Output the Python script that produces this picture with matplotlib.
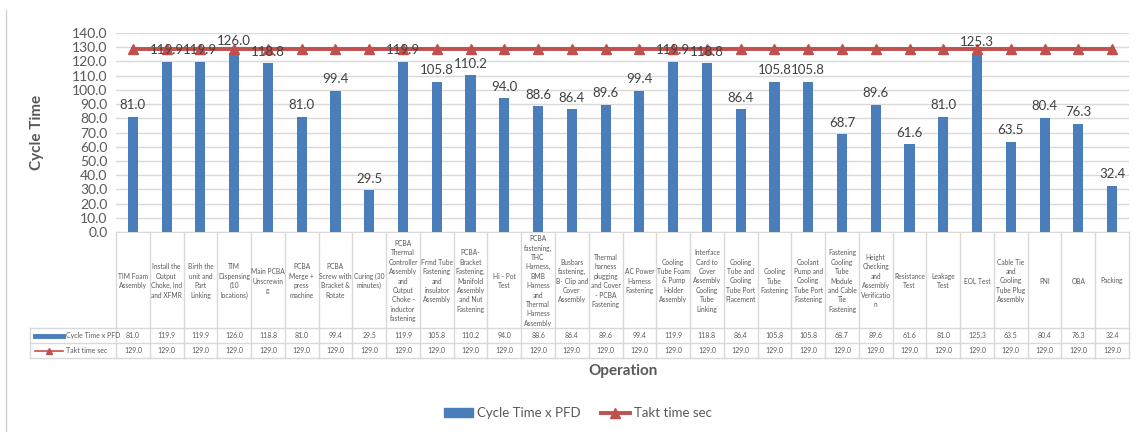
import matplotlib.pyplot as plt
from matplotlib.transforms import blended_transform_factory
from matplotlib.lines import Line2D
from matplotlib.patches import Patch

plt.rcParams['font.family'] = ['Lato', 'DejaVu Sans']

operations = [
    "TIM Foam\nAssembly",
    "Install the\nOutput\nChoke, Ind\nand XFMR",
    "Birth the\nunit and\nPart\nLinking",
    "TIM\nDispensing\n(10\nlocations)",
    "Main PCBA\nUnscrewin\ng",
    "PCBA\nMerge +\npress\nmachine",
    "PCBA\nScrew with\nBracket &\nRotate",
    "Curing (30\nminutes)",
    "PCBA\nThermal\nController\nAssembly\nand\nOutput\nChoke -\ninductor\nfastening",
    "Frmd Tube\nFastening\nand\ninsulator\nAssembly",
    "PCBA-\nBracket\nFastening,\nManifold\nAssembly\nand Nut\nFastening",
    "Hi - Pot\nTest",
    "PCBA\nfastening,\nTHC\nHarness,\nBMB\nHarness\nand\nThermal\nHarness\nAssembly",
    "Busbars\nfastening,\nB- Clip and\nCover\nAssembly",
    "Thermal\nharness\nplugging\nand Cover\n- PCBA\nFastening",
    "AC Power\nHarness\nFastening",
    "Cooling\nTube Foam\n& Pump\nHolder\nAssembly",
    "Interface\nCard to\nCover\nAssembly\nCooling\nTube\nLinking",
    "Cooling\nTube and\nCooling\nTube Port\nPlacement",
    "Cooling\nTube\nFastening",
    "Coolant\nPump and\nCooling\nTube Port\nFastening",
    "Fastening\nCooling\nTube\nModule\nand Cable\nTie\nFastening",
    "Height\nChecking\nand\nAssembly\nVerificatio\nn",
    "Resistance\nTest",
    "Leakage\nTest",
    "EOL Test",
    "Cable Tie\nand\nCooling\nTube Plug\nAssembly",
    "FNI",
    "OBA",
    "Packing",
]
cycle_time = [81.0, 119.9, 119.9, 126.0, 118.8, 81.0, 99.4, 29.5, 119.9, 105.8,
              110.2, 94.0, 88.6, 86.4, 89.6, 99.4, 119.9, 118.8, 86.4, 105.8,
              105.8, 68.7, 89.6, 61.6, 81.0, 125.3, 63.5, 80.4, 76.3, 32.4]
takt_time = [129.0] * 30

BLUE = '#4a7ebb'
RED = '#c0504d'
GRID = '#d9d9d9'
TXT = '#595959'

W, H = 1137, 432
fig = plt.figure(figsize=(W / 100, H / 100), dpi=100)

def fy(p):
    # pixel row from the top -> figure fraction
    return 1 - p / H

ax = fig.add_axes([116 / W, fy(232), 1013 / W, 199 / H])
x = list(range(len(operations)))

ax.bar(x, cycle_time, width=0.3, color=BLUE, zorder=3)
ax.plot(x, takt_time, color=RED, lw=2.8, marker='^', ms=7, zorder=4)
for xi, v in zip(x, cycle_time):
    ax.annotate(f"{v:.1f}", (xi, v), xytext=(0, 4), textcoords='offset points',
                ha='center', va='bottom', fontsize=9.5, color='#404040', zorder=5)

ax.set_xlim(-0.5, len(operations) - 0.5)
ax.set_ylim(0, 140)
ax.set_yticks(range(0, 141, 10))
ax.set_yticklabels([f"{t:.1f}" for t in range(0, 141, 10)], fontsize=10, color=TXT)
ax.yaxis.grid(True, color=GRID, lw=1, zorder=0)
ax.set_xticks([])
ax.tick_params(axis='y', length=0, pad=6)
for s in ['top', 'right', 'left']:
    ax.spines[s].set_visible(False)
ax.spines['bottom'].set_color(GRID)
ax.set_ylabel('Cycle Time', fontsize=11, fontweight='bold', color=TXT, labelpad=20)

# data table below the axis
tr = blended_transform_factory(ax.transData, fig.transFigure)
row_top, row_mid, row_bot = 328, 343, 358
for b in [i - 0.5 for i in range(len(operations) + 1)]:
    ax.plot([b, b], [fy(232), fy(row_bot)], color=GRID, lw=1, transform=tr, clip_on=False)
for r in (row_top, row_mid, row_bot):
    fig.add_artist(Line2D([30 / W, 1129 / W], [fy(r), fy(r)], color=GRID, lw=1))
fig.add_artist(Line2D([30 / W, 30 / W], [fy(row_top), fy(row_bot)], color=GRID, lw=1))

for xi, name, c, t in zip(x, operations, cycle_time, takt_time):
    ax.text(xi, fy(281), name, transform=tr, ha='center', va='center',
            fontsize=4.8, color=TXT, linespacing=1.4)
    ax.text(xi, fy((row_top + row_mid) / 2), f"{c:.1f}", transform=tr,
            ha='center', va='center', fontsize=5, color=TXT)
    ax.text(xi, fy((row_mid + row_bot) / 2), f"{t:.1f}", transform=tr,
            ha='center', va='center', fontsize=5, color=TXT)

# legend keys inside the table
y1 = fy((row_top + row_mid) / 2)
y2 = fy((row_mid + row_bot) / 2)
fig.add_artist(Line2D([35 / W, 63 / W], [y1, y1], color=BLUE, lw=3.5))
fig.add_artist(Line2D([35 / W, 63 / W], [y2, y2], color=RED, lw=1.2))
fig.add_artist(Line2D([49 / W], [y2], color=RED, marker='^', ms=4))
fig.text(66 / W, y1, 'Cycle Time x PFD', fontsize=5, color=TXT, va='center')
fig.text(66 / W, y2, 'Takt time sec', fontsize=5, color=TXT, va='center')

fig.text(623 / W, fy(371), 'Operation', fontsize=11, fontweight='bold',
         color=TXT, ha='center', va='center')

handles = [Patch(color=BLUE, label='Cycle Time x PFD'),
           Line2D([], [], color=RED, lw=2.8, marker='^', ms=7, label='Takt time sec')]
fig.legend(handles=handles, loc='center', bbox_to_anchor=(578 / W, fy(413)),
           ncol=2, frameon=False, fontsize=9.5, labelcolor=TXT,
           handlelength=2.2, handleheight=0.6, columnspacing=1.5, handletextpad=0.3)

# chart area edge on the left
fig.add_artist(Line2D([6 / W, 6 / W], [fy(10), 0], color='#d0d0d0', lw=1))

fig.savefig('out.png', dpi=100)
